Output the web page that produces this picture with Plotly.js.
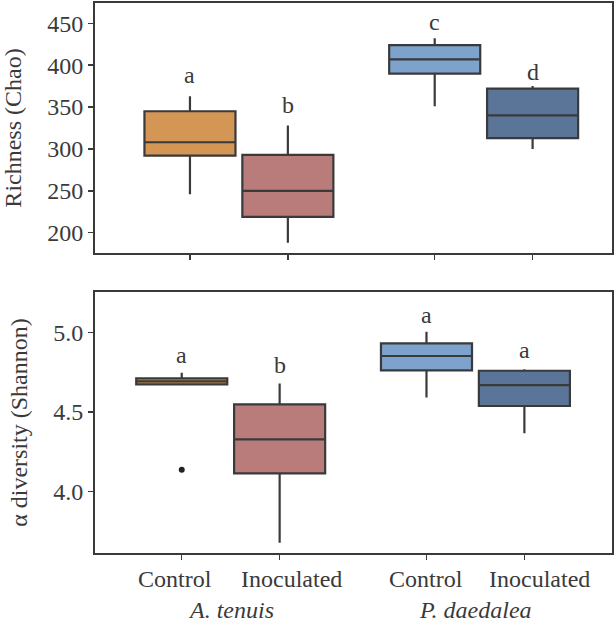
<!DOCTYPE html>
<html>
<head>
<meta charset="utf-8">
<script src="https://cdn.plot.ly/plotly-3.0.1.min.js"></script>
<style>html,body{margin:0;padding:0;background:#fff;}#chart{width:616px;height:625px;}</style>
</head>
<body>
<div id="chart"></div>
<script>
// ---- data ----
const categories = ['Control', 'Inoculated', 'Control', 'Inoculated'];
const species = ['A. tenuis', 'P. daedalea'];
const colors = ['#D39654', '#B97C7A', '#7DA2CC', '#5A7598'];

// Richness (Chao)
const chaoUpper  = [363, 328, 432, 375];
const chaoQ3     = [345, 293, 424, 372];
const chaoMedian = [308, 250, 407, 340];
const chaoQ1     = [292, 219, 390, 313];
const chaoLower  = [246, 188, 351, 300];
const chaoLetters = ['a', 'b', 'c', 'd'];
const chaoLetterY = [388, 353, 452, 392];

// alpha diversity (Shannon)
const shanUpper  = [4.748, 4.680, 5.006, 4.769];
const shanQ3     = [4.712, 4.548, 4.933, 4.760];
const shanMedian = [4.693, 4.328, 4.853, 4.670];
const shanQ1     = [4.674, 4.113, 4.763, 4.538];
const shanLower  = [4.674, 3.677, 4.592, 4.366];
const shanOutlierX = [0];          // index of category
const shanOutlierY = [4.137];
const shanLetters = ['a', 'b', 'a', 'a'];
const shanLetterY = [4.861, 4.798, 5.113, 4.893];

// ---- layout helpers ----
const pos = [1, 2, 3.5, 4.5];
const labelPos = [0.93, 2.12, 3.49, 4.65];
const lineCol = '#3a3a3a';
const txtCol = '#3a3a3a';
const FONT = "'Liberation Serif', 'Times New Roman', Times, serif";

const traces = [];
function addBoxes(up, q3, med, q1, lo, xa, ya) {
  for (let i = 0; i < 4; i++) {
    traces.push({
      type: 'box', x: [pos[i]], q1: [q1[i]], median: [med[i]], q3: [q3[i]],
      lowerfence: [lo[i]], upperfence: [up[i]],
      width: 0.93, whiskerwidth: 0, boxpoints: false,
      fillcolor: colors[i], line: {color: lineCol, width: 2.2},
      xaxis: xa, yaxis: ya, showlegend: false, hoverinfo: 'skip'
    });
  }
}
addBoxes(chaoUpper, chaoQ3, chaoMedian, chaoQ1, chaoLower, 'x', 'y');
addBoxes(shanUpper, shanQ3, shanMedian, shanQ1, shanLower, 'x2', 'y2');
traces.push({
  type: 'scatter', mode: 'markers',
  x: shanOutlierX.map(i => pos[i]), y: shanOutlierY,
  marker: {color: '#222', size: 6}, xaxis: 'x2', yaxis: 'y2',
  showlegend: false, hoverinfo: 'skip'
});

const annotations = [];
for (let i = 0; i < 4; i++) {
  annotations.push({xref: 'x', yref: 'y', x: pos[i], y: chaoLetterY[i], text: chaoLetters[i],
    showarrow: false, yanchor: 'middle', font: {family: FONT, size: 24, color: txtCol}});
  annotations.push({xref: 'x2', yref: 'y2', x: pos[i], y: shanLetterY[i], text: shanLetters[i],
    showarrow: false, yanchor: 'middle', font: {family: FONT, size: 24, color: txtCol}});
  annotations.push({xref: 'x2', yref: 'paper', x: labelPos[i], y: -0.0197, text: categories[i],
    showarrow: false, yanchor: 'top', font: {family: FONT, size: 24, color: txtCol}});
}
for (let g = 0; g < 2; g++) {
  annotations.push({xref: 'x2', yref: 'paper', x: (pos[2*g] + pos[2*g+1]) / 2, y: -0.077,
    text: '<i>' + species[g] + '</i>', showarrow: false, yanchor: 'top',
    font: {family: FONT, size: 24, color: txtCol}});
}

const axisCommon = {
  showline: true, mirror: true, linecolor: lineCol, linewidth: 2,
  ticks: 'outside', ticklen: 5, tickwidth: 1.5, tickcolor: lineCol,
  showgrid: false, zeroline: false,
  tickfont: {family: FONT, size: 24, color: txtCol}
};

const layout = {
  width: 616, height: 625,
  margin: {l: 95, r: 4, t: 3, b: 72},
  paper_bgcolor: '#fff', plot_bgcolor: '#fff',
  boxmode: 'overlay',
  font: {family: FONT, color: txtCol},
  xaxis: Object.assign({}, axisCommon, {domain: [0, 1], range: [0.03, 5.311], anchor: 'y',
    tickvals: pos, showticklabels: false}),
  yaxis: Object.assign({}, axisCommon, {domain: [0.5455, 1], range: [175.8, 474.2], anchor: 'x',
    tickvals: [200, 250, 300, 350, 400, 450],
    title: {text: 'Richness (Chao)', font: {family: FONT, size: 24, color: txtCol}, standoff: 19}}),
  xaxis2: Object.assign({}, axisCommon, {domain: [0, 1], range: [0.114, 5.395], anchor: 'y2',
    tickvals: pos, showticklabels: false}),
  yaxis2: Object.assign({}, axisCommon, {domain: [0, 0.4745], range: [3.612, 5.256], anchor: 'x2',
    tickvals: [4.0, 4.5, 5.0], tickformat: '.1f',
    title: {text: 'α diversity (Shannon)', font: {family: FONT, size: 24, color: txtCol}, standoff: 19}}),
  annotations: annotations
};

Plotly.newPlot('chart', traces, layout, {displayModeBar: false, staticPlot: true});
</script>
</body>
</html>
